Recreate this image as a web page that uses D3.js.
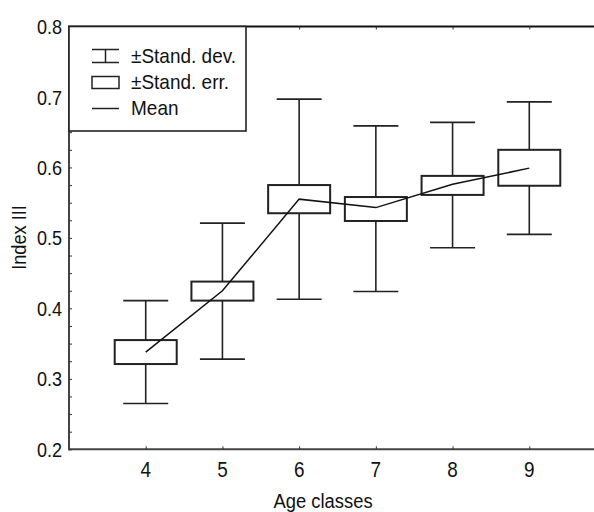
<!DOCTYPE html>
<html>
<head>
<meta charset="utf-8">
<script src="https://cdn.jsdelivr.net/npm/d3@7"></script>
<style>
  body { margin: 0; background: #fff; }
  text { font-family: "Liberation Sans", Arial, sans-serif; fill: #111; }
</style>
</head>
<body>
<div id="plot"></div>
<script>
const PLOT_WIDTH = 594;
const PLOT_HEIGHT = 512;

// values
const ages = [4, 5, 6, 7, 8, 9];
const means = [0.338, 0.425, 0.555, 0.543, 0.576, 0.599];
const seLow = [0.321, 0.411, 0.535, 0.524, 0.561, 0.574];
const seHigh = [0.355, 0.438, 0.575, 0.558, 0.588, 0.625];
const sdLow = [0.265, 0.328, 0.413, 0.424, 0.486, 0.505];
const sdHigh = [0.411, 0.521, 0.697, 0.659, 0.664, 0.693];
const yTicks = [0.2, 0.3, 0.4, 0.5, 0.6, 0.7, 0.8];
const legendLabels = ['\u00b1Stand. dev.', '\u00b1Stand. err.', 'Mean'];

const margin = { left: 69, top: 26.5, bottom: 449.3, right: 606 };

// the original font is a condensed sans, squeeze Liberation Sans sideways
const SQUEEZE = 0.86;

var svg = d3.select('#plot')
    .append('svg')
    .attr('width', PLOT_WIDTH)
    .attr('height', PLOT_HEIGHT)

var x = d3.scaleLinear().domain([3, 10]).range([margin.left, margin.right]);
var y = d3.scaleLinear().domain([0.2, 0.8]).range([margin.bottom, margin.top]);

let data = ages.map((a, i) => ({
    age: a,
    mean: means[i],
    seLow: seLow[i],
    seHigh: seHigh[i],
    sdLow: sdLow[i],
    sdHigh: sdHigh[i]
}));

let boxHalf = 31;
let capHalf = 22.5;
let ink = '#222';

// whiskers
let g = svg.append('g').attr('stroke', ink).attr('stroke-width', 1.6).attr('fill', 'none');
g.selectAll('line.sd')
    .data(data)
    .enter()
    .append('line')
    .attr('class', 'sd')
    .attr('x1', d => x(d.age))
    .attr('x2', d => x(d.age))
    .attr('y1', d => y(d.sdLow))
    .attr('y2', d => y(d.sdHigh))
;
g.selectAll('line.capHi')
    .data(data)
    .enter()
    .append('line')
    .attr('x1', d => x(d.age) - capHalf)
    .attr('x2', d => x(d.age) + capHalf)
    .attr('y1', d => y(d.sdHigh))
    .attr('y2', d => y(d.sdHigh))
;
g.selectAll('line.capLo')
    .data(data)
    .enter()
    .append('line')
    .attr('x1', d => x(d.age) - capHalf)
    .attr('x2', d => x(d.age) + capHalf)
    .attr('y1', d => y(d.sdLow))
    .attr('y2', d => y(d.sdLow))
;
// boxes
g.selectAll('rect')
    .data(data)
    .enter()
    .append('rect')
    .attr('x', d => x(d.age) - boxHalf)
    .attr('y', d => y(d.seHigh))
    .attr('width', boxHalf * 2)
    .attr('height', d => y(d.seLow) - y(d.seHigh))
    .attr('fill', '#fff')
    .attr('stroke-width', 2)
;
// mean line
svg.append('path')
    .datum(data)
    .attr('fill', 'none')
    .attr('stroke', '#111')
    .attr('stroke-width', 1.5)
    .attr('d', d3.line().x(d => x(d.age)).y(d => y(d.mean)))
;

// frame
let axisColor = '#444';
svg.append('line').attr('x1', margin.left).attr('x2', margin.left)
    .attr('y1', margin.top).attr('y2', margin.bottom + 1)
    .attr('stroke', axisColor).attr('stroke-width', 2);
svg.append('line').attr('x1', margin.left - 1).attr('x2', margin.right)
    .attr('y1', margin.bottom).attr('y2', margin.bottom)
    .attr('stroke', axisColor).attr('stroke-width', 2);
svg.append('line').attr('x1', margin.left - 1).attr('x2', margin.right)
    .attr('y1', margin.top).attr('y2', margin.top)
    .attr('stroke', '#111').attr('stroke-width', 2);

// y axis: inward ticks, minor every 0.025
let yAxis = d3.axisRight(y)
    .tickValues(d3.range(0.2, 0.8001, 0.025))
    .tickSize(3)
    .tickFormat('');
svg.append('g')
    .attr('transform', `translate(${margin.left},0)`)
    .call(yAxis)
    .call(s => s.select('.domain').remove())
    .call(s => s.selectAll('line').attr('stroke', '#333'));
svg.append('g')
    .selectAll('text')
    .data(yTicks)
    .enter()
    .append('text')
    .attr('transform', d => `translate(62,${y(d)}) scale(${SQUEEZE},1)`)
    .attr('dy', '0.36em')
    .attr('text-anchor', 'end')
    .attr('font-size', 21)
    .text(d => d3.format('.1f')(d));

// x axis: inward ticks top and bottom
let xBottom = d3.axisTop(x).tickValues(ages).tickSize(3).tickFormat('');
svg.append('g')
    .attr('transform', `translate(0,${margin.bottom})`)
    .call(xBottom)
    .call(s => s.select('.domain').remove())
    .call(s => s.selectAll('line').attr('stroke', '#333'));
let xTop = d3.axisBottom(x).tickValues(ages).tickSize(3).tickFormat('');
svg.append('g')
    .attr('transform', `translate(0,${margin.top})`)
    .call(xTop)
    .call(s => s.select('.domain').remove())
    .call(s => s.selectAll('line').attr('stroke', '#333'));
svg.append('g')
    .selectAll('text')
    .data(ages)
    .enter()
    .append('text')
    .attr('transform', d => `translate(${x(d)},477) scale(${SQUEEZE},1)`)
    .attr('text-anchor', 'middle')
    .attr('font-size', 22)
    .text(d => d);

// titles
svg.append('text')
    .attr('transform', `translate(323,508) scale(0.876,1)`)
    .attr('text-anchor', 'middle')
    .attr('font-size', 21)
    .text('Age classes');
svg.append('text')
    .attr('transform', 'translate(26,237.5) rotate(-90) scale(0.91,1)')
    .attr('text-anchor', 'middle')
    .attr('font-size', 20)
    .text('Index III');

// legend
let lg = svg.append('g');
lg.append('rect')
    .attr('x', margin.left).attr('y', margin.top)
    .attr('width', 246 - margin.left).attr('height', 131 - margin.top)
    .attr('fill', '#fff').attr('stroke', '#222').attr('stroke-width', 1.6);
let sym = lg.append('g').attr('stroke', ink).attr('stroke-width', 1.5).attr('fill', 'none');
sym.append('line').attr('x1', 92).attr('x2', 119).attr('y1', 49.5).attr('y2', 49.5);
sym.append('line').attr('x1', 92).attr('x2', 119).attr('y1', 62.5).attr('y2', 62.5);
sym.append('line').attr('x1', 105.5).attr('x2', 105.5).attr('y1', 49.5).attr('y2', 62.5);
sym.append('rect').attr('x', 92).attr('y', 76.5).attr('width', 27).attr('height', 12);
sym.append('line').attr('x1', 92).attr('x2', 119).attr('y1', 108.5).attr('y2', 108.5);
lg.selectAll('text')
    .data(legendLabels)
    .enter()
    .append('text')
    .attr('transform', (d, i) => `translate(131,${63 + i * 26}) scale(0.95,1)`)
    .attr('font-size', 20)
    .text(d => d);
</script>
</body>
</html>
